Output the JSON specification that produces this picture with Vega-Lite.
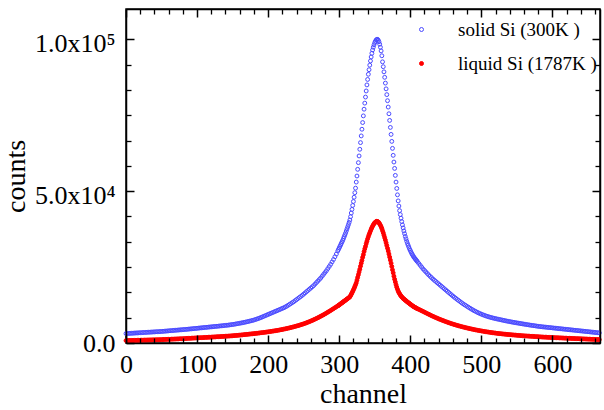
{
  "$schema": "https://vega.github.io/schema/vega-lite/v6.json",
  "width": 474,
  "height": 334,
  "autosize": {"type": "none"},
  "padding": {"left": 126, "top": 9, "right": 4, "bottom": 67},
  "background": "white",
  "config": {
    "view": {"stroke": "black", "strokeWidth": 1.5},
    "axis": {"grid": false}
  },
  "data": {
    "values": [
      {"c":0,"s":3100,"l":800},{"c":2,"s":3130,"l":810},{"c":4,"s":3160,"l":820},{"c":6,"s":3180,"l":830},{"c":8,"s":3210,"l":850},
      {"c":10,"s":3240,"l":860},{"c":12,"s":3270,"l":870},{"c":14,"s":3300,"l":880},{"c":16,"s":3320,"l":900},{"c":18,"s":3350,"l":910},
      {"c":20,"s":3380,"l":920},{"c":22,"s":3410,"l":930},{"c":24,"s":3440,"l":950},{"c":26,"s":3460,"l":960},{"c":28,"s":3490,"l":970},
      {"c":30,"s":3520,"l":980},{"c":32,"s":3550,"l":1000},{"c":34,"s":3580,"l":1010},{"c":36,"s":3600,"l":1020},{"c":38,"s":3630,"l":1040},
      {"c":40,"s":3660,"l":1050},{"c":42,"s":3690,"l":1060},{"c":44,"s":3720,"l":1080},{"c":46,"s":3740,"l":1090},{"c":48,"s":3770,"l":1100},
      {"c":50,"s":3800,"l":1120},{"c":52,"s":3840,"l":1140},{"c":54,"s":3880,"l":1160},{"c":56,"s":3920,"l":1180},{"c":58,"s":3960,"l":1200},
      {"c":60,"s":4000,"l":1220},{"c":62,"s":4040,"l":1240},{"c":64,"s":4080,"l":1260},{"c":66,"s":4120,"l":1280},{"c":68,"s":4160,"l":1300},
      {"c":70,"s":4200,"l":1320},{"c":72,"s":4240,"l":1340},{"c":74,"s":4280,"l":1360},{"c":76,"s":4320,"l":1380},{"c":78,"s":4360,"l":1400},
      {"c":80,"s":4400,"l":1420},{"c":82,"s":4440,"l":1450},{"c":84,"s":4480,"l":1480},{"c":86,"s":4520,"l":1510},{"c":88,"s":4570,"l":1530},
      {"c":90,"s":4620,"l":1560},{"c":92,"s":4660,"l":1580},{"c":94,"s":4710,"l":1610},{"c":96,"s":4760,"l":1630},{"c":98,"s":4800,"l":1660},
      {"c":100,"s":4850,"l":1680},{"c":102,"s":4900,"l":1710},{"c":104,"s":4950,"l":1730},{"c":106,"s":4990,"l":1760},{"c":108,"s":5040,"l":1780},
      {"c":110,"s":5090,"l":1810},{"c":112,"s":5130,"l":1840},{"c":114,"s":5180,"l":1860},{"c":116,"s":5230,"l":1890},{"c":118,"s":5270,"l":1910},
      {"c":120,"s":5320,"l":1940},{"c":122,"s":5370,"l":1970},{"c":124,"s":5410,"l":1990},{"c":126,"s":5460,"l":2020},{"c":128,"s":5510,"l":2050},
      {"c":130,"s":5550,"l":2080},{"c":132,"s":5600,"l":2100},{"c":134,"s":5650,"l":2130},{"c":136,"s":5700,"l":2160},{"c":138,"s":5750,"l":2190},
      {"c":140,"s":5800,"l":2220},{"c":142,"s":5850,"l":2250},{"c":144,"s":5900,"l":2280},{"c":146,"s":5960,"l":2310},{"c":148,"s":6030,"l":2350},
      {"c":150,"s":6100,"l":2390},{"c":152,"s":6170,"l":2430},{"c":154,"s":6250,"l":2470},{"c":156,"s":6330,"l":2510},{"c":158,"s":6410,"l":2550},
      {"c":160,"s":6500,"l":2590},{"c":162,"s":6590,"l":2640},{"c":164,"s":6680,"l":2690},{"c":166,"s":6780,"l":2740},{"c":168,"s":6880,"l":2790},
      {"c":170,"s":6980,"l":2840},{"c":172,"s":7090,"l":2890},{"c":174,"s":7200,"l":2940},{"c":176,"s":7320,"l":2990},{"c":178,"s":7440,"l":3040},
      {"c":180,"s":7560,"l":3090},{"c":182,"s":7720,"l":3140},{"c":184,"s":7880,"l":3190},{"c":186,"s":8040,"l":3250},{"c":188,"s":8220,"l":3310},
      {"c":190,"s":8400,"l":3370},{"c":192,"s":8600,"l":3430},{"c":194,"s":8800,"l":3490},{"c":196,"s":9000,"l":3550},{"c":198,"s":9200,"l":3610},
      {"c":200,"s":9400,"l":3680},{"c":202,"s":9600,"l":3750},{"c":204,"s":9800,"l":3820},{"c":206,"s":10000,"l":3890},{"c":208,"s":10200,"l":3960},
      {"c":210,"s":10400,"l":4040},{"c":212,"s":10600,"l":4120},{"c":214,"s":10800,"l":4200},{"c":216,"s":11000,"l":4280},{"c":218,"s":11200,"l":4370},
      {"c":220,"s":11400,"l":4460},{"c":222,"s":11600,"l":4560},{"c":224,"s":11850,"l":4660},{"c":226,"s":12100,"l":4760},{"c":228,"s":12400,"l":4870},
      {"c":230,"s":12700,"l":4980},{"c":232,"s":13000,"l":5090},{"c":234,"s":13300,"l":5210},{"c":236,"s":13600,"l":5330},{"c":238,"s":13950,"l":5460},
      {"c":240,"s":14300,"l":5590},{"c":242,"s":14650,"l":5720},{"c":244,"s":15000,"l":5860},{"c":246,"s":15350,"l":6010},{"c":248,"s":15700,"l":6160},
      {"c":250,"s":16100,"l":6310},{"c":252,"s":16500,"l":6480},{"c":254,"s":16900,"l":6660},{"c":256,"s":17300,"l":6840},{"c":258,"s":17700,"l":7030},
      {"c":260,"s":18100,"l":7230},{"c":262,"s":18500,"l":7430},{"c":264,"s":18900,"l":7640},{"c":266,"s":19400,"l":7860},{"c":268,"s":19900,"l":8080},
      {"c":270,"s":20400,"l":8310},{"c":272,"s":20900,"l":8550},{"c":274,"s":21400,"l":8800},{"c":276,"s":22000,"l":9050},{"c":278,"s":22600,"l":9310},
      {"c":280,"s":23200,"l":9580},{"c":282,"s":23800,"l":9860},{"c":284,"s":24500,"l":10140},{"c":286,"s":25200,"l":10430},{"c":288,"s":25900,"l":10720},
      {"c":290,"s":26700,"l":11020},{"c":292,"s":27500,"l":11320},{"c":294,"s":28400,"l":11620},{"c":296,"s":29300,"l":11920},{"c":298,"s":30300,"l":12220},
      {"c":299,"s":30800,"l":12370},{"c":300,"s":31300,"l":12550},{"c":301,"s":31800,"l":12720},{"c":302,"s":32300,"l":12900},{"c":303,"s":32800,"l":13070},
      {"c":304,"s":33300,"l":13250},{"c":305,"s":33800,"l":13420},{"c":306,"s":34400,"l":13600},{"c":307,"s":35000,"l":13770},{"c":308,"s":35600,"l":13950},
      {"c":309,"s":36200,"l":14120},{"c":310,"s":36900,"l":14300},{"c":311,"s":37600,"l":14470},{"c":312,"s":38300,"l":14650},{"c":313,"s":39000,"l":14820},
      {"c":314,"s":39700,"l":15000},{"c":315,"s":40500,"l":15200},{"c":316,"s":41600,"l":15600},{"c":317,"s":42800,"l":16050},{"c":318,"s":44000,"l":16500},
      {"c":319,"s":45300,"l":17000},{"c":320,"s":46600,"l":17500},{"c":321,"s":48000,"l":18000},{"c":322,"s":49500,"l":18600},{"c":323,"s":51000,"l":19200},
      {"c":324,"s":53000,"l":19800},{"c":325,"s":55000,"l":20700},{"c":326,"s":57200,"l":21600},{"c":327,"s":59400,"l":22500},{"c":328,"s":61600,"l":23400},
      {"c":329,"s":63800,"l":24300},{"c":330,"s":66000,"l":25300},{"c":331,"s":68200,"l":26300},{"c":332,"s":70400,"l":27200},{"c":333,"s":72600,"l":28200},
      {"c":334,"s":74800,"l":29100},{"c":335,"s":77000,"l":30100},{"c":336,"s":79000,"l":31000},{"c":337,"s":81000,"l":31800},{"c":338,"s":83000,"l":32700},
      {"c":339,"s":85000,"l":33500},{"c":340,"s":86800,"l":34300},{"c":341,"s":88500,"l":35000},{"c":342,"s":90000,"l":35700},{"c":343,"s":91500,"l":36300},
      {"c":344,"s":92900,"l":36900},{"c":345,"s":94200,"l":37500},{"c":346,"s":95400,"l":38000},{"c":347,"s":96500,"l":38500},{"c":348,"s":97400,"l":38900},
      {"c":349,"s":98200,"l":39300},{"c":350,"s":98900,"l":39600},{"c":351,"s":99400,"l":39800},{"c":352,"s":99800,"l":40000},{"c":353,"s":100000,"l":40100},
      {"c":354,"s":100000,"l":40000},{"c":355,"s":99700,"l":39800},{"c":356,"s":99200,"l":39600},{"c":357,"s":98400,"l":39200},{"c":358,"s":97400,"l":38800},
      {"c":359,"s":96200,"l":38300},{"c":360,"s":94600,"l":37700},{"c":361,"s":92600,"l":37000},{"c":362,"s":91000,"l":36300},{"c":363,"s":89300,"l":35500},
      {"c":364,"s":87500,"l":34700},{"c":365,"s":85600,"l":33900},{"c":366,"s":83700,"l":33000},{"c":367,"s":81800,"l":32100},{"c":368,"s":79800,"l":31200},
      {"c":369,"s":77700,"l":30300},{"c":370,"s":75500,"l":29300},{"c":371,"s":73300,"l":28300},{"c":372,"s":71000,"l":27300},{"c":373,"s":68700,"l":26300},
      {"c":374,"s":66400,"l":25200},{"c":375,"s":64100,"l":24100},{"c":376,"s":61800,"l":23100},{"c":377,"s":59600,"l":22000},{"c":378,"s":57500,"l":21000},
      {"c":379,"s":55200,"l":20100},{"c":380,"s":53000,"l":19200},{"c":381,"s":50900,"l":18400},{"c":382,"s":48800,"l":17700},{"c":383,"s":46800,"l":17100},
      {"c":384,"s":45100,"l":16600},{"c":385,"s":43600,"l":16200},{"c":386,"s":42300,"l":15800},{"c":387,"s":41100,"l":15500},{"c":388,"s":40000,"l":15200},
      {"c":389,"s":38900,"l":14950},{"c":390,"s":37900,"l":14700},{"c":391,"s":36900,"l":14500},{"c":392,"s":36000,"l":14300},{"c":393,"s":35100,"l":14100},
      {"c":394,"s":34300,"l":13900},{"c":395,"s":33500,"l":13700},{"c":396,"s":32800,"l":13520},{"c":397,"s":32200,"l":13340},{"c":398,"s":31600,"l":13160},
      {"c":399,"s":31000,"l":12980},{"c":400,"s":30500,"l":12800},{"c":401,"s":30000,"l":12620},{"c":402,"s":29500,"l":12450},{"c":403,"s":29100,"l":12280},
      {"c":404,"s":28700,"l":12100},{"c":405,"s":28300,"l":11960},{"c":406,"s":28000,"l":11820},{"c":407,"s":27700,"l":11690},{"c":408,"s":27400,"l":11560},
      {"c":409,"s":27100,"l":11430},{"c":410,"s":26800,"l":11300},
      {"c":412,"s":26200,"l":11080},{"c":414,"s":25600,"l":10860},{"c":416,"s":25000,"l":10630},{"c":418,"s":24400,"l":10400},
      {"c":420,"s":23900,"l":10160},{"c":422,"s":23400,"l":9930},{"c":424,"s":22900,"l":9690},{"c":426,"s":22400,"l":9460},{"c":428,"s":21950,"l":9230},
      {"c":430,"s":21500,"l":9000},{"c":432,"s":21050,"l":8780},{"c":434,"s":20650,"l":8570},{"c":436,"s":20250,"l":8360},{"c":438,"s":19850,"l":8160},
      {"c":440,"s":19450,"l":7960},{"c":442,"s":19050,"l":7770},{"c":444,"s":18650,"l":7580},{"c":446,"s":18250,"l":7400},{"c":448,"s":17850,"l":7220},
      {"c":450,"s":17450,"l":7040},{"c":452,"s":17050,"l":6870},{"c":454,"s":16650,"l":6700},{"c":456,"s":16250,"l":6540},{"c":458,"s":15850,"l":6380},
      {"c":460,"s":15450,"l":6230},{"c":462,"s":15080,"l":6080},{"c":464,"s":14720,"l":5940},{"c":466,"s":14360,"l":5800},{"c":468,"s":14000,"l":5670},
      {"c":470,"s":13650,"l":5540},{"c":472,"s":13300,"l":5410},{"c":474,"s":12950,"l":5290},{"c":476,"s":12650,"l":5170},{"c":478,"s":12350,"l":5050},
      {"c":480,"s":12050,"l":4940},{"c":482,"s":11750,"l":4830},{"c":484,"s":11460,"l":4720},{"c":486,"s":11180,"l":4620},{"c":488,"s":10900,"l":4520},
      {"c":490,"s":10640,"l":4420},{"c":492,"s":10390,"l":4320},{"c":494,"s":10150,"l":4230},{"c":496,"s":9920,"l":4140},{"c":498,"s":9700,"l":4050},
      {"c":500,"s":9500,"l":3970},{"c":502,"s":9310,"l":3890},{"c":504,"s":9130,"l":3810},{"c":506,"s":8960,"l":3730},{"c":508,"s":8800,"l":3660},
      {"c":510,"s":8650,"l":3590},{"c":512,"s":8510,"l":3520},{"c":514,"s":8380,"l":3450},{"c":516,"s":8260,"l":3380},{"c":518,"s":8140,"l":3320},
      {"c":520,"s":8030,"l":3260},{"c":522,"s":7920,"l":3200},{"c":524,"s":7820,"l":3140},{"c":526,"s":7720,"l":3080},{"c":528,"s":7620,"l":3030},
      {"c":530,"s":7520,"l":2980},{"c":532,"s":7420,"l":2930},{"c":534,"s":7320,"l":2880},{"c":536,"s":7220,"l":2830},{"c":538,"s":7130,"l":2790},
      {"c":540,"s":7040,"l":2750},{"c":542,"s":6950,"l":2710},{"c":544,"s":6860,"l":2670},{"c":546,"s":6780,"l":2630},{"c":548,"s":6700,"l":2590},
      {"c":550,"s":6620,"l":2550},{"c":552,"s":6540,"l":2510},{"c":554,"s":6460,"l":2470},{"c":556,"s":6380,"l":2430},{"c":558,"s":6300,"l":2390},
      {"c":560,"s":6220,"l":2360},{"c":562,"s":6140,"l":2330},{"c":564,"s":6060,"l":2300},{"c":566,"s":5990,"l":2270},{"c":568,"s":5920,"l":2240},
      {"c":570,"s":5850,"l":2210},{"c":572,"s":5780,"l":2180},{"c":574,"s":5710,"l":2150},{"c":576,"s":5640,"l":2120},{"c":578,"s":5570,"l":2090},
      {"c":580,"s":5500,"l":2060},{"c":582,"s":5440,"l":2030},{"c":584,"s":5380,"l":2000},{"c":586,"s":5330,"l":1970},{"c":588,"s":5280,"l":1940},
      {"c":590,"s":5230,"l":1920},{"c":592,"s":5180,"l":1900},{"c":594,"s":5130,"l":1870},{"c":596,"s":5080,"l":1850},{"c":598,"s":5030,"l":1820},
      {"c":600,"s":4980,"l":1800},{"c":602,"s":4930,"l":1780},{"c":604,"s":4880,"l":1750},{"c":606,"s":4830,"l":1730},{"c":608,"s":4780,"l":1710},
      {"c":610,"s":4730,"l":1690},{"c":612,"s":4680,"l":1670},{"c":614,"s":4630,"l":1650},{"c":616,"s":4580,"l":1620},{"c":618,"s":4530,"l":1600},
      {"c":620,"s":4480,"l":1580},{"c":622,"s":4430,"l":1560},{"c":624,"s":4380,"l":1540},{"c":626,"s":4330,"l":1520},{"c":628,"s":4280,"l":1500},
      {"c":630,"s":4230,"l":1480},{"c":632,"s":4180,"l":1460},{"c":634,"s":4130,"l":1440},{"c":636,"s":4080,"l":1420},{"c":638,"s":4030,"l":1400},
      {"c":640,"s":3980,"l":1380},{"c":642,"s":3930,"l":1360},{"c":644,"s":3880,"l":1340},{"c":646,"s":3830,"l":1320},{"c":648,"s":3780,"l":1300},
      {"c":650,"s":3730,"l":1280},{"c":652,"s":3680,"l":1260},{"c":654,"s":3630,"l":1240},{"c":656,"s":3580,"l":1220},{"c":658,"s":3530,"l":1200},
      {"c":660,"s":3480,"l":1180},{"c":662,"s":3430,"l":1160},{"c":664,"s":3380,"l":1140},{"c":666,"s":3330,"l":1120}
    ]
  },
  "resolve": {"axis": {"x": "independent", "y": "independent"}},
  "layer": [
    {
      "transform": [{"fold": ["s", "l"], "as": ["k", "v"]}],
      "mark": {"type": "point", "size": 15, "strokeWidth": 1, "opacity": 1, "filled": false},
      "encoding": {
        "x": {
          "field": "c", "type": "quantitative",
          "scale": {"domain": [0, 667], "nice": false, "zero": false},
          "axis": {
            "orient": "bottom",
            "values": [0,100,200,300,400,500,600],
            "ticks": true, "tickSize": -8, "tickColor": "black", "tickWidth": 1.5,
            "zindex": 1,
            "domainColor": "black", "domainWidth": 1.5,
            "labelFlush": false, "labelOverlap": false,
            "labelFont": "Liberation Serif", "labelColor": "black",
            "labelFontSize": 26,
            "labelPadding": 16,
            "title": "channel",
            "titleFont": "Liberation Serif", "titleColor": "black", "titleFontWeight": "normal",
            "titleFontSize": 28,
            "titlePadding": 3
          }
        },
        "y": {
          "field": "v", "type": "quantitative",
          "scale": {"domain": [0, 110000], "nice": false, "zero": false},
          "axis": {
            "orient": "left",
            "values": [0, 50000, 100000],
            "labelExpr": "datum.value === 0 ? '0.0' : datum.value === 50000 ? '5.0x10⁴' : '1.0x10⁵'",
            "labelOffset": {"condition": {"test": "datum.value > 0", "value": 4}, "value": 0},
            "ticks": true, "tickSize": -8, "tickColor": "black", "tickWidth": 1.5,
            "zindex": 1,
            "domainColor": "black", "domainWidth": 1.5,
            "labelFlush": false, "labelOverlap": false,
            "labelFont": "Liberation Serif", "labelColor": "black",
            "labelFontSize": 26,
            "labelPadding": 19,
            "title": "counts",
            "titleFont": "Liberation Serif", "titleColor": "black", "titleFontWeight": "normal",
            "titleFontSize": 28,
            "titlePadding": 4
          }
        },
        "stroke": {
          "field": "k", "type": "nominal",
          "scale": {"domain": ["s", "l"], "range": ["#4a4aff", "#ff0000"]},
          "legend": {
            "title": null,
            "orient": "none",
            "legendX": 286,
            "legendY": 11,
            "labelExpr": "datum.label === 's' ? 'solid Si (300K )' : 'liquid Si (1787K )'",
            "labelFont": "Liberation Serif", "labelColor": "black",
            "labelFontSize": 19,
            "labelLimit": 300,
            "symbolSize": 16,
            "symbolStrokeWidth": 1,
            "labelOffset": 27,
            "rowPadding": 14,
            "padding": 0
          }
        },
        "fill": {
          "field": "k", "type": "nominal",
          "scale": {"domain": ["s", "l"], "range": ["transparent", "#ff0000"]},
          "legend": {
            "title": null,
            "orient": "none",
            "legendX": 286,
            "legendY": 11,
            "labelExpr": "datum.label === 's' ? 'solid Si (300K )' : 'liquid Si (1787K )'",
            "labelFont": "Liberation Serif", "labelColor": "black",
            "labelFontSize": 19,
            "labelLimit": 300,
            "symbolSize": 16,
            "symbolStrokeWidth": 1,
            "labelOffset": 27,
            "rowPadding": 14,
            "padding": 0
          }
        }
      }
    },
    {
      "data": {"values": [{"c": 0, "v": 0}]},
      "mark": {"type": "point", "opacity": 0},
      "encoding": {
        "x": {
          "field": "c", "type": "quantitative",
          "axis": {"orient": "top", "values": [0,100,200,300,400,500,600], "labels": false, "title": null, "ticks": true, "tickSize": -8, "tickColor": "black", "tickWidth": 1.5, "zindex": 1, "domainColor": "black", "domainWidth": 1.5}
        },
        "y": {
          "field": "v", "type": "quantitative",
          "axis": {"orient": "right", "values": [0, 50000, 100000], "labels": false, "title": null, "ticks": true, "tickSize": -8, "tickColor": "black", "tickWidth": 1.5, "zindex": 1, "domainColor": "black", "domainWidth": 1.5}
        }
      }
    },
    {
      "data": {"values": [{"c": 0, "v": 0}]},
      "mark": {"type": "point", "opacity": 0},
      "encoding": {
        "x": {
          "field": "c", "type": "quantitative",
          "axis": {"orient": "bottom", "values": [20,40,60,80,120,140,160,180,220,240,260,280,320,340,360,380,420,440,460,480,520,540,560,580,620,640,660], "labels": false, "title": null, "domain": false, "ticks": true, "tickSize": -5, "tickColor": "black", "tickWidth": 1.3, "zindex": 1}
        },
        "y": {
          "field": "v", "type": "quantitative",
          "axis": {"orient": "left", "values": [8333.33,16666.67,25000,33333.33,41666.67,58333.33,66666.67,75000,83333.33,91666.67], "labels": false, "title": null, "domain": false, "ticks": true, "tickSize": -5, "tickColor": "black", "tickWidth": 1.3, "zindex": 1}
        }
      }
    },
    {
      "data": {"values": [{"c": 0, "v": 0}]},
      "mark": {"type": "point", "opacity": 0},
      "encoding": {
        "x": {
          "field": "c", "type": "quantitative",
          "axis": {"orient": "top", "values": [20,40,60,80,120,140,160,180,220,240,260,280,320,340,360,380,420,440,460,480,520,540,560,580,620,640,660], "labels": false, "title": null, "domain": false, "ticks": true, "tickSize": -5, "tickColor": "black", "tickWidth": 1.3, "zindex": 1}
        },
        "y": {
          "field": "v", "type": "quantitative",
          "axis": {"orient": "right", "values": [8333.33,16666.67,25000,33333.33,41666.67,58333.33,66666.67,75000,83333.33,91666.67], "labels": false, "title": null, "domain": false, "ticks": true, "tickSize": -5, "tickColor": "black", "tickWidth": 1.3, "zindex": 1}
        }
      }
    }
  ]
}
